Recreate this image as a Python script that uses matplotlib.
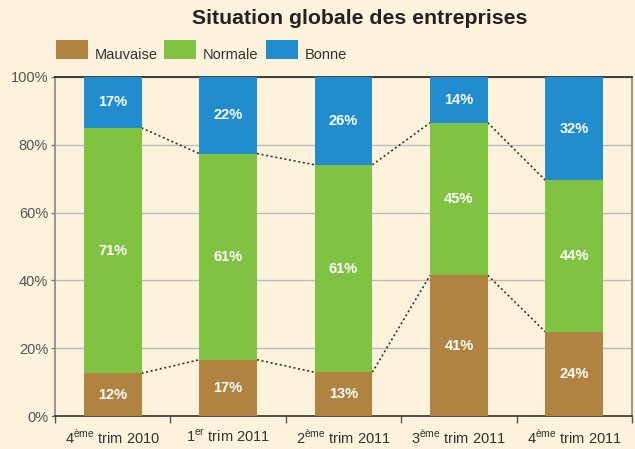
import matplotlib
matplotlib.use("Agg")
import matplotlib.pyplot as plt
from matplotlib.patches import Rectangle
import numpy as np

categories = ["4$^{\\mathregular{ème}}$ trim 2010", "1$^{\\mathregular{er}}$ trim 2011",
              "2$^{\\mathregular{ème}}$ trim 2011", "3$^{\\mathregular{ème}}$ trim 2011",
              "4$^{\\mathregular{ème}}$ trim 2011"]
# bar heights as drawn in the picture (%)
mauvaise = [12.6, 16.6, 12.9, 41.5, 24.8]
normale = [72.4, 60.8, 61.2, 45.0, 44.7]
bonne = [15.0, 22.6, 25.9, 13.5, 30.5]
# printed labels (%)
mauvaise_lbl = [12, 17, 13, 41, 24]
normale_lbl = [71, 61, 61, 45, 44]
bonne_lbl = [17, 22, 26, 14, 32]
series_names = ["Mauvaise", "Normale", "Bonne"]
colors = ["#B08440", "#80C241", "#218DCE"]
yticks = [0, 20, 40, 60, 80, 100]

bg = "#FDF2DB"
plt.rcParams['font.family'] = ['Liberation Sans', 'DejaVu Sans']
plt.rcParams['mathtext.fontset'] = 'custom'
plt.rcParams['mathtext.rm'] = 'Liberation Sans'

W, H = 635, 449
fig = plt.figure(figsize=(6.35, 4.49), dpi=100, facecolor=bg)
ax = fig.add_axes([55/W, 1-416/H, 577/W, 339/H], facecolor=bg)

x = np.arange(len(categories))
w = 0.5
data = [mauvaise, normale, bonne]
labels = [mauvaise_lbl, normale_lbl, bonne_lbl]
bottom = np.zeros(len(categories))
for vals, lbls, name, c in zip(data, labels, series_names, colors):
    vals = np.array(vals, dtype=float)
    ax.bar(x, vals, w, bottom=bottom, color=c, label=name, zorder=3)
    for xi, b, v, l in zip(x, bottom, vals, lbls):
        ax.text(xi, b + v/2, f"{l}%", ha="center", va="center", color="white",
                fontsize=10.5, fontweight="bold", zorder=4)
    bottom = bottom + vals

# dotted connectors
cum1 = np.array(mauvaise, dtype=float)
cum2 = cum1 + np.array(normale, dtype=float)
for cum in (cum1, cum2):
    for i in range(len(x)-1):
        ax.plot([x[i]+w/2, x[i+1]-w/2], [cum[i], cum[i+1]], linestyle=(0, (1.2, 1.6)),
                color="#333333", lw=1.2, zorder=2)

ax.set_xlim(-0.5, len(x)-0.5)
ax.set_ylim(0, 100)
ax.set_yticks(yticks)
ax.set_yticklabels([f"{t}%" for t in yticks], fontsize=10.5, color="#555555")
ax.set_xticks(x)
ax.set_xticklabels(categories, fontsize=10.5, color="#333333")
ax.set_xticks(np.arange(-0.5, len(x)), minor=True)
ax.tick_params(axis='x', which='major', length=0, pad=9)
ax.tick_params(axis='x', which='minor', length=5, color="#555555", width=1)
ax.tick_params(axis='y', length=3, color="#777777", width=1, pad=2)
ax.yaxis.grid(True, color="#bbbbbb", lw=1, zorder=0)
ax.set_axisbelow(True)
for s in ['left', 'right']:
    ax.spines[s].set_color("#888888")
    ax.spines[s].set_linewidth(1.2)
ax.spines['top'].set_color("#222222")
ax.spines['bottom'].set_color("#333333")
ax.spines['top'].set_linewidth(1.2)
ax.spines['bottom'].set_linewidth(1.2)

fig.text(360/W, 1-18/H, "Situation globale des entreprises", ha="center", va="center",
         fontsize=15.3, fontweight="bold", color="#222222")

# legend drawn manually
leg_x = [56, 164, 266]
for lx, name, c in zip(leg_x, series_names, colors):
    fig.patches.append(Rectangle((lx/W, 1-59/H), 32/W, 19/H, transform=fig.transFigure,
                                 facecolor=c, edgecolor="none"))
    fig.text((lx+39)/W, 1-59/H, name, ha="left", va="baseline", fontsize=10.5, color="#333333")

fig.savefig("out.png", dpi=100, facecolor=bg)
